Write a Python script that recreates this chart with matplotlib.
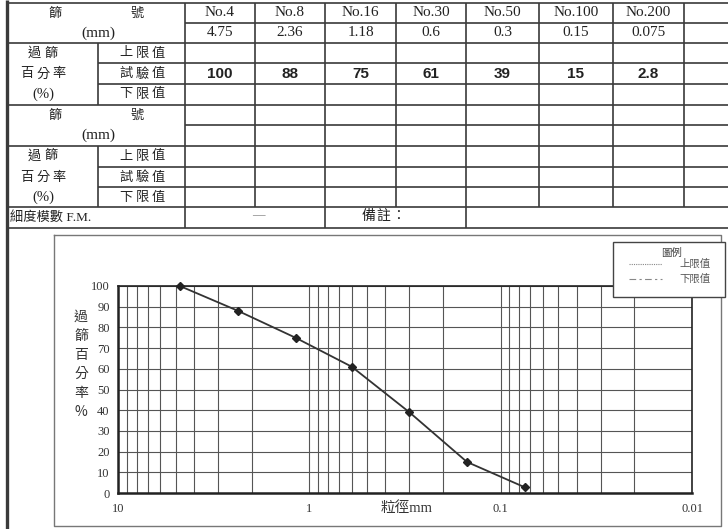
import numpy as np
import matplotlib.pyplot as plt
from matplotlib.ticker import LogLocator, NullFormatter, FixedLocator

plt.rcParams['font.family'] = ['Liberation Serif', 'Noto Sans CJK TC']

# sieve data
sieve_no = ["No.4", "No.8", "No.16", "No.30", "No.50", "No.100", "No.200"]
sieve_mm = [4.75, 2.36, 1.18, 0.6, 0.3, 0.15, 0.075]
sieve_mm_txt = ["4.75", "2.36", "1.18", "0.6", "0.3", "0.15", "0.075"]
passing = [100, 88, 75, 61, 39, 15, 2.8]
passing_txt = ["100", "88", "75", "61", "39", "15", "2.8"]

W, H = 728, 529
fig = plt.figure(figsize=(W / 100, H / 100), dpi=100)
fig.patch.set_facecolor("white")

# overlay in pixel coords for the form
ov = fig.add_axes([0, 0, 1, 1])
ov.set_xlim(0, W)
ov.set_ylim(H, 0)
ov.axis("off")

lc = "#3a3a3a"
tc = "#222"
cjk = ['Noto Sans CJK TC', 'DejaVu Sans']

def hline(y, x0, x1, lw=1.2):
    ov.plot([x0, x1], [y, y], color=lc, lw=lw, solid_capstyle="butt")

def vline(x, y0, y1, lw=1.2):
    ov.plot([x, x], [y0, y1], color=lc, lw=lw, solid_capstyle="butt")

def spaced(cx, y, s, step, size=9.5):
    # CJK text with letter spacing, centred on cx
    start = cx - step * (len(s) - 1) / 2
    for k, ch in enumerate(s):
        ov.text(start + k * step, y, ch, family=cjk, fontsize=size,
                ha="center", va="center", color=tc)

# table grid
col_x = [185, 255, 325, 396, 466, 539, 613, 684]
hline(3, 7, W)
hline(23, 185, W)
hline(43, 7, W)
hline(63, 98, W)
hline(84, 98, W)
hline(105, 7, W)
hline(125, 185, W)
hline(146, 7, W)
hline(167, 98, W)
hline(187, 98, W)
hline(207, 7, W)
hline(228, 7, W)
vline(98, 43, 105)
vline(98, 146, 207)
for x in col_x:
    vline(x, 3, 207)
vline(185, 207, 228)
vline(325, 207, 228)
vline(466, 207, 228)
vline(7, 0, H, lw=2.4)

# left header texts
for y0 in (13, 115):
    spaced(55, y0, "篩", 16)
    spaced(137, y0, "號", 16)
    ov.text(98, y0 + 20, "(mm)", fontsize=11, ha="center", va="center", color=tc)
for y0 in (53, 156):
    spaced(43, y0, "過篩", 17)
    spaced(43, y0 + 21, "百分率", 16)
    ov.text(43, y0 + 41, "(%)", fontsize=10.5, ha="center", va="center", color=tc)
    spaced(142, y0, "上限值", 16)
    spaced(142, y0 + 21, "試驗值", 16)
    spaced(142, y0 + 41, "下限值", 16)

# sieve columns
for i in range(len(sieve_no)):
    cx = (col_x[i] + col_x[i + 1]) / 2
    ov.text(cx, 13, sieve_no[i], fontsize=11, ha="center", va="center", color=tc)
    ov.text(cx, 33, sieve_mm_txt[i], fontsize=11, ha="center", va="center", color=tc)
    ov.text(cx, 74, passing_txt[i], family="Liberation Sans", fontsize=11,
            fontweight="bold", ha="center", va="center", color=tc)

ov.text(10, 217, "細度模數 F.M.", fontsize=9.5, ha="left", va="center", color=tc)
ov.text(258, 215, "—", fontsize=9, ha="center", va="center", color="#777")
spaced(383, 216, "備註：", 15, size=10)

# chart outer box
ov.plot([54, 721, 721, 54, 54], [235, 235, 526, 526, 235], color="#777", lw=1.0)

# y label, stacked
ylab = ["過", "篩", "百", "分", "率", "%"]
for k, ch in enumerate(ylab):
    ov.text(81, 317 + k * 19, ch, family=cjk, fontsize=10, ha="center", va="center", color="#333")
ov.text(407, 508, "粒徑mm", fontsize=10.5, ha="center", va="center", color="#333")

# grain size chart
x0, x1, y0, y1 = 118, 692, 286, 493
ax = fig.add_axes([x0 / W, (H - y1) / H, (x1 - x0) / W, (y1 - y0) / H])
ax.set_xscale("log")
ax.set_xlim(10, 0.01)
ax.set_ylim(0, 100)
ax.xaxis.set_major_locator(FixedLocator([10, 1, 0.1, 0.01]))
ax.xaxis.set_minor_locator(LogLocator(base=10, subs=np.arange(2, 10)))
ax.xaxis.set_minor_formatter(NullFormatter())
ax.set_xticklabels(["10", "1", "0.1", "0.01"])
ax.set_yticks(np.arange(0, 101, 10))
ax.grid(True, which="both", color="#555", lw=0.8)
ax.tick_params(which="both", length=0, labelsize=9, colors="#333")
ax.tick_params(axis="x", pad=7)
ax.tick_params(axis="y", pad=6)
for s in ax.spines.values():
    s.set_color("#222")
    s.set_linewidth(1.2)
ax.spines["bottom"].set_linewidth(1.8)
ax.spines["left"].set_linewidth(1.8)
ax.set_axisbelow(True)

ax.plot(sieve_mm, passing, color="#333", lw=1.3, marker="D", markersize=4.5,
        markerfacecolor="#222", markeredgecolor="#222", clip_on=False, zorder=5)

# legend box
lg = fig.add_axes([0, 0, 1, 1], facecolor="none")
lg.set_xlim(0, W)
lg.set_ylim(H, 0)
lg.axis("off")
lg.fill([613, 725, 725, 613], [242, 242, 297, 297], facecolor="white",
        edgecolor="#444", lw=1.0, zorder=10)
lg.text(671, 253, "圖例", family=cjk, fontsize=7.5, ha="center", va="center", color="#444", zorder=11)
lg.plot([629, 662], [264, 264], color="#888", lw=0.8, ls=(0, (1, 1)), zorder=11)
lg.plot([629, 662], [279, 279], color="#888", lw=0.8, ls=(0, (6, 3, 2, 3)), zorder=11)
lg.text(711, 264, "上限值", family=cjk, fontsize=7.5, ha="right", va="center", color="#555", zorder=11)
lg.text(711, 279, "下限值", family=cjk, fontsize=7.5, ha="right", va="center", color="#555", zorder=11)

fig.savefig("out.png", dpi=100, facecolor="white")
